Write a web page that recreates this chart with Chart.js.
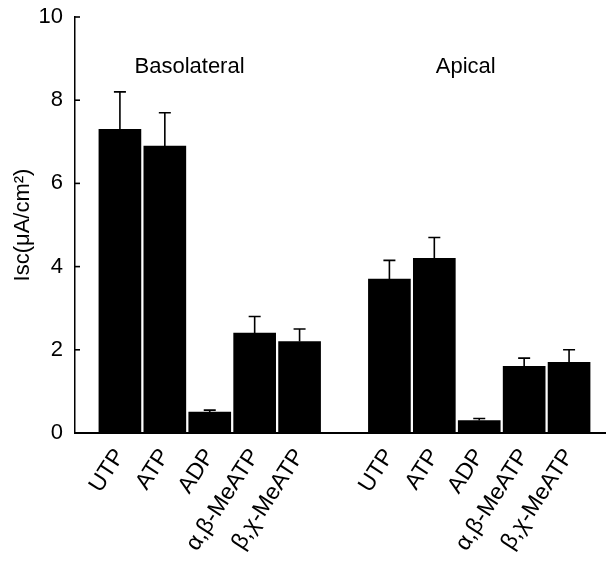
<!DOCTYPE html>
<html>
<head>
<meta charset="utf-8">
<script src="https://cdn.jsdelivr.net/npm/chart.js@4.4.1/dist/chart.umd.min.js"></script>
<style>
  html, body { margin: 0; padding: 0; background: #fff; }
  #wrap { width: 608px; height: 563px; }
</style>
</head>
<body>
<div id="wrap"><canvas id="chart" width="608" height="563"></canvas></div>
<script>
// Data
const agonists = ['UTP', 'ATP', 'ADP', 'α,β-MeATP', 'β,χ-MeATP'];
const groups = ['Basolateral', 'Apical'];
const basolateralMean = [7.3, 6.9, 0.5, 2.4, 2.2];
const basolateralSem = [0.9, 0.8, 0.05, 0.4, 0.3];
const apicalMean = [3.7, 4.2, 0.3, 1.6, 1.7];
const apicalSem = [0.45, 0.5, 0.05, 0.2, 0.3];
const yTicks = [0, 2, 4, 6, 8, 10];

// bar slots: 1..5 for basolateral, 7..11 for apical (one empty slot between)
const slotsBaso = agonists.map((a, i) => i + 1);
const slotsApical = agonists.map((a, i) => i + 7);
const tickLabels = {};
slotsBaso.forEach((s, i) => tickLabels[s] = agonists[i]);
slotsApical.forEach((s, i) => tickLabels[s] = agonists[i]);

const points = [
  ...slotsBaso.map((s, i) => ({ x: s, y: basolateralMean[i], sem: basolateralSem[i] })),
  ...slotsApical.map((s, i) => ({ x: s, y: apicalMean[i], sem: apicalSem[i] }))
];

const FONT = "'Liberation Sans', Arial, sans-serif";

// Error bars (upper only) + inward y ticks + group captions
const extras = {
  id: 'extras',
  afterDatasetsDraw(chart) {
    const ctx = chart.ctx;
    const xs = chart.scales.x, ys = chart.scales.y;
    ctx.save();
    ctx.strokeStyle = '#000';
    ctx.lineWidth = 1.6;
    points.forEach(p => {
      const px = xs.getPixelForValue(p.x);
      const y0 = ys.getPixelForValue(p.y);
      const y1 = ys.getPixelForValue(p.y + p.sem);
      ctx.beginPath();
      ctx.moveTo(px, y0);
      ctx.lineTo(px, y1);
      ctx.moveTo(px - 6, y1);
      ctx.lineTo(px + 6, y1);
      ctx.stroke();
    });

    // inward tick marks on the y axis
    const ax = chart.chartArea.left;
    yTicks.slice(1).forEach(v => {
      const py = ys.getPixelForValue(v);
      ctx.beginPath();
      ctx.moveTo(ax, py);
      ctx.lineTo(ax + 5, py);
      ctx.stroke();
    });

    // group captions
    ctx.fillStyle = '#000';
    ctx.font = '22px ' + FONT;
    ctx.textAlign = 'center';
    ctx.textBaseline = 'middle';
    ctx.fillText(groups[0], xs.getPixelForValue(2.55), ys.getPixelForValue(8.8));
    ctx.fillText(groups[1], xs.getPixelForValue(8.7), ys.getPixelForValue(8.8));
    ctx.restore();
  }
};

new Chart(document.getElementById('chart'), {
  type: 'bar',
  data: {
    datasets: [{
      data: points,
      backgroundColor: '#000',
      borderWidth: 0,
      barThickness: 42
    }]
  },
  options: {
    responsive: false,
    animation: false,
    layout: { padding: { top: 17, right: 3, left: 0, bottom: 0 } },
    plugins: { legend: { display: false }, tooltip: { enabled: false } },
    scales: {
      x: {
        type: 'linear',
        offset: false,
        min: 0,
        max: 11.8,
        afterBuildTicks(scale) {
          scale.ticks = [...slotsBaso, ...slotsApical].map(v => ({ value: v }));
        },
        afterFit(scale) { scale.height = 130; },
        grid: { display: false, drawTicks: false },
        border: { display: true, color: '#000', width: 2 },
        ticks: {
          autoSkip: false,
          maxRotation: 57,
          minRotation: 57,
          padding: 11,
          color: '#000',
          font: { family: FONT, size: 23 },
          callback: v => tickLabels[v] || ''
        }
      },
      y: {
        min: 0,
        max: 10,
        afterBuildTicks(scale) {
          scale.ticks = yTicks.map(v => ({ value: v }));
        },
        afterFit(scale) {
          scale.width = 75;
          scale.paddingTop = 0;
          scale.paddingBottom = 0;
        },
        grid: { display: false, drawTicks: false },
        border: { display: true, color: '#000', width: 1.5 },
        ticks: {
          padding: 12,
          color: '#000',
          font: { family: FONT, size: 22 }
        },
        title: {
          display: true,
          text: 'Isc(μA/cm²)',
          color: '#000',
          padding: { top: 10, bottom: 0 },
          font: { family: FONT, size: 22 }
        }
      }
    }
  },
  plugins: [extras]
});
</script>
</body>
</html>
